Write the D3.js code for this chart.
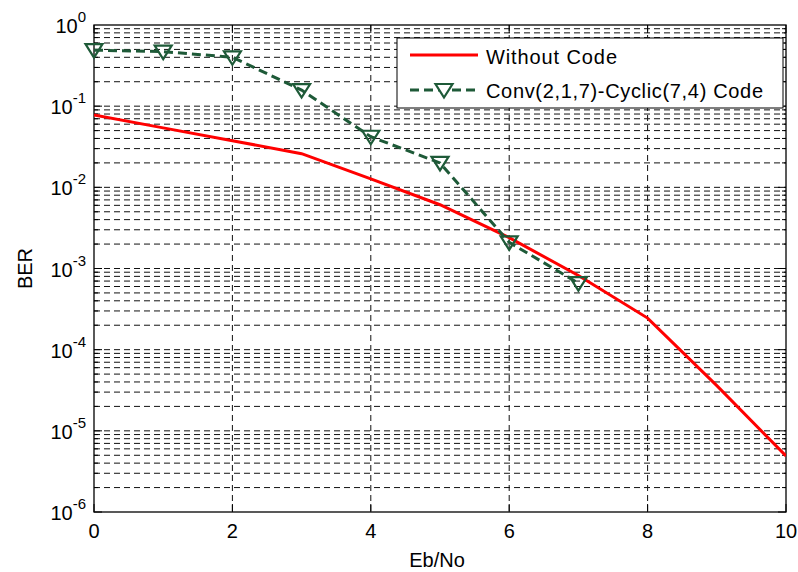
<!DOCTYPE html>
<html><head><meta charset="utf-8">
<script src="https://cdn.jsdelivr.net/npm/d3@7"></script>
<style>body{margin:0;background:#fff;} text{font-family:Arial,"Liberation Sans",sans-serif;}</style>
</head><body>
<svg id="c" width="798" height="572"></svg>
<script>
const ebno = [0,1,2,3,4,5,6,7,8,9,10];
const berUncoded = [0.078,0.054,0.0375,0.026,0.0127,0.0061,0.0024,0.00082,0.000245,0.000036,0.0000049];
const ebnoCoded = [0,1,2,3,4,5,6,7];
const berCoded = [0.49,0.47,0.40,0.158,0.042,0.020,0.0021,0.00066];
const xTicks = [0,2,4,6,8,10];
const yDecades = [0,-1,-2,-3,-4,-5,-6];
const seriesNames = ["Without Code","Conv(2,1,7)-Cyclic(7,4) Code"];

const svg = d3.select("#c");
const L=94,R=786,T=25,B=512;
const FS=20;
const x = d3.scaleLinear().domain([0,10]).range([L,R]);
const y = d3.scaleLog().domain([1e-6,1]).range([B,T]);

// grid
const minor=[];
for(let e=-6;e<0;e++) for(let m=1;m<=9;m++) minor.push(m*Math.pow(10,e));
const g = svg.append("g");
g.selectAll("line.hg").data(minor.filter(v=>v>1e-6)).enter().append("line")
 .attr("x1",L).attr("x2",R).attr("y1",d=>y(d)).attr("y2",d=>y(d))
 .attr("stroke","#111").attr("stroke-width",1).attr("stroke-dasharray","6,4");
g.selectAll("line.vg").data(xTicks.filter(v=>v>0&&v<10)).enter().append("line")
 .attr("x1",d=>x(d)).attr("x2",d=>x(d)).attr("y1",T).attr("y2",B)
 .attr("stroke","#111").attr("stroke-width",1).attr("stroke-dasharray","6,4");

// ticks inward
const tk = svg.append("g");
minor.forEach(v=>{
  const len = (Math.abs(Math.log10(v)-Math.round(Math.log10(v)))<1e-9)?8:4;
  tk.append("line").attr("x1",L).attr("x2",L+len).attr("y1",y(v)).attr("y2",y(v)).attr("stroke","#000");
  tk.append("line").attr("x1",R).attr("x2",R-len).attr("y1",y(v)).attr("y2",y(v)).attr("stroke","#000");
});
xTicks.forEach(v=>{
  tk.append("line").attr("x1",x(v)).attr("x2",x(v)).attr("y1",B).attr("y2",B-8).attr("stroke","#000");
  tk.append("line").attr("x1",x(v)).attr("x2",x(v)).attr("y1",T).attr("y2",T+8).attr("stroke","#000");
});
svg.append("rect").attr("x",L).attr("y",T).attr("width",R-L).attr("height",B-T)
 .attr("fill","none").attr("stroke","#000").attr("stroke-width",1.3);

// tick labels
const yl = svg.append("g");
yDecades.forEach(e=>{
  const t = yl.append("text").attr("x",86).attr("y",y(Math.pow(10,e))+8).attr("text-anchor","end")
    .attr("font-size",FS).attr("fill","#000");
  t.append("tspan").text("10");
  t.append("tspan").attr("dy",-11).attr("font-size",15).text(String(e));
});
svg.append("g").selectAll("text").data(xTicks).enter().append("text")
 .attr("x",d=>x(d)).attr("y",538).attr("text-anchor","middle").attr("font-size",FS).text(d=>d);
svg.append("text").attr("x",(L+R)/2-3).attr("y",567).attr("text-anchor","middle").attr("font-size",FS).text("Eb/No");
svg.append("text").attr("transform","translate(32,"+((T+B)/2)+") rotate(-90)").attr("text-anchor","middle").attr("font-size",FS).text("BER");

// lines
svg.append("clipPath").attr("id","cp").append("rect").attr("x",L).attr("y",T).attr("width",R-L).attr("height",B-T);
const line = d3.line().x(d=>x(d[0])).y(d=>y(d[1]));
const redData = ebno.map((v,i)=>[v,berUncoded[i]]);
const grnData = ebnoCoded.map((v,i)=>[v,berCoded[i]]);
svg.append("path").datum(redData).attr("d",line).attr("fill","none").attr("stroke","#ff0000").attr("stroke-width",3).attr("clip-path","url(#cp)");
const GC="#1e5a38";
svg.append("path").datum(grnData).attr("d",line).attr("fill","none").attr("stroke",GC).attr("stroke-width",3).attr("stroke-dasharray","9,5");
const tri = (cx,cy)=>`M${cx-8.5},${cy-6}L${cx+8.5},${cy-6}L${cx},${cy+7.5}Z`;
svg.append("g").selectAll("path").data(grnData).enter().append("path")
 .attr("d",d=>tri(x(d[0]),y(d[1]))).attr("fill","none").attr("stroke",GC).attr("stroke-width",2.2);

// legend
const lg = svg.append("g");
lg.append("rect").attr("x",397).attr("y",38).attr("width",386).attr("height",70).attr("fill","#fff").attr("stroke","#000").attr("stroke-width",1);
lg.append("line").attr("x1",410).attr("x2",478).attr("y1",55).attr("y2",55).attr("stroke","#ff0000").attr("stroke-width",3);
lg.append("line").attr("x1",410).attr("x2",478).attr("y1",90).attr("y2",90).attr("stroke",GC).attr("stroke-width",3).attr("stroke-dasharray","9,5");
lg.append("path").attr("d",tri(444,90)).attr("fill","#fff").attr("stroke",GC).attr("stroke-width",2.2);
lg.append("text").attr("x",486).attr("y",64).attr("font-size",FS).attr("textLength",131).text(seriesNames[0]);
lg.append("text").attr("x",486).attr("y",98).attr("font-size",FS).attr("textLength",277).text(seriesNames[1]);
</script>
</body></html>
